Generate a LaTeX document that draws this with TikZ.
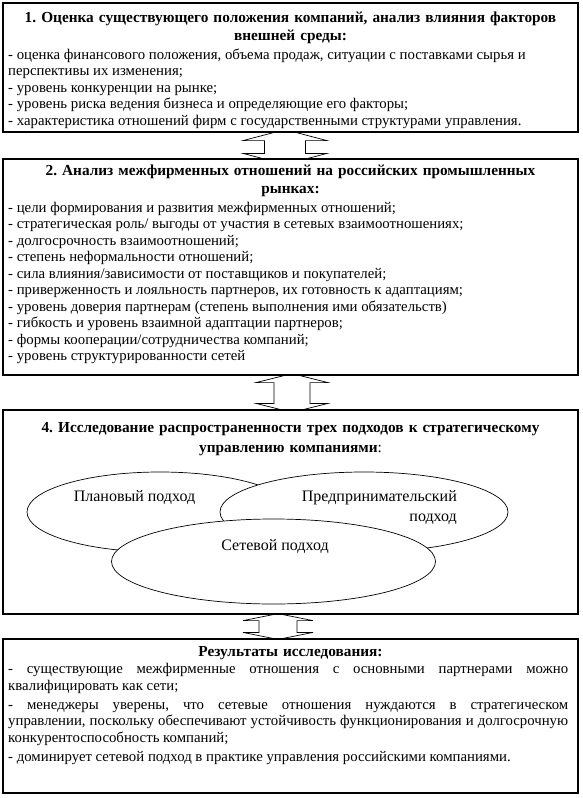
\documentclass[tikz,border=0pt]{standalone}
\usepackage{fontspec}
\setmainfont{Liberation Serif}
\usetikzlibrary{shapes.geometric,calc}
\pgfdeclarelayer{bg}
\pgfsetlayers{bg,main}
\frenchspacing
\newcommand\blockarr[5]{%
  \draw[arr] (#1) -- ($(#1)+(#3,-#5)$) -- ($(#1)+(#4,-#5)$) -- ($(#2)+(#4,#5)$) -- ($(#2)+(#3,#5)$) -- (#2)
   -- ($(#2)+(-#3,#5)$) -- ($(#2)+(-#4,#5)$) -- ($(#1)+(-#4,-#5)$) -- ($(#1)+(-#3,-#5)$) -- cycle;}
\begin{document}
\begin{tikzpicture}[x=1pt,y=1pt,
  box/.style={draw, line width=1.2pt, fill=white, minimum width=575, inner sep=0pt},
  ell/.style={draw, ellipse, line width=0.7pt, fill=white, inner sep=0pt},
  arr/.style={draw, line width=0.7pt, fill=white},
  body/.style={inner sep=0pt, align=left, font=\fontsize{14.8}{16.5}\selectfont\frenchspacing},
  ttl/.style={inner sep=0pt, align=center, text width=570, font=\fontsize{15.3}{18}\selectfont\bfseries\frenchspacing},
  lbl/.style={inner sep=0pt, font=\fontsize{16}{20}\selectfont}]
\useasboundingbox (0,0) rectangle (582,-798);
\begin{pgfonlayer}{bg}
\fill[white] (0,0) rectangle (582,-798);
\end{pgfonlayer}
% boxes
\node[box, minimum height=129] (b1) at (290.5,-67.5) {};
\node[box, minimum height=216] (b2) at (290.5,-267) {};
\node[box, minimum height=204] (b4) at (290.5,-512) {};
\node[box, minimum height=154] (b5) at (290.5,-716) {};
% box 1 text
\node[ttl, anchor=north] (t1) at (290.5,-9.8) {\strut 1. Оценка существующего положения компаний, анализ влияния факторов\\внешней среды:};
\node[body, anchor=north west] (x1) at (8,-47.25) {\strut - оценка финансового положения, объема продаж, ситуации с поставками сырья и\\
перспективы их изменения;\\
- уровень конкуренции на рынке;\\
- уровень риска ведения бизнеса и определяющие его факторы;\\
- характеристика отношений фирм с государственными структурами управления.};
% box 2 text
\node[ttl, anchor=north] (t2) at (290.5,-162.8) {\strut 2. Анализ межфирменных отношений на российских промышленных\\рынках:};
\node[body, anchor=north west] (x2) at (8,-200.25) {\strut - цели формирования и развития межфирменных отношений;\\
- стратегическая роль/ выгоды от участия в сетевых взаимоотношениях;\\
- долгосрочность взаимоотношений;\\
- степень неформальности отношений;\\
- сила влияния/зависимости от поставщиков и покупателей;\\
- приверженность и лояльность партнеров, их готовность к адаптациям;\\
- уровень доверия партнерам (степень выполнения ими обязательств)\\
- гибкость и уровень взаимной адаптации партнеров;\\
- формы кооперации/сотрудничества компаний;\\
- уровень структурированности сетей};
% box 4 text
\node[ttl, anchor=north, font=\fontsize{15.3}{20}\selectfont\bfseries\frenchspacing] (t4) at (290.5,-418.4) {\strut 4. Исследование распространенности трех подходов к стратегическому\\управлению компаниями\mdseries:};
% ellipses
\node[ell, minimum width=266, minimum height=80] (e1) at (160,-512) {};
\node[ell, minimum width=288, minimum height=80] (e2) at (364,-512) {};
\node[ell, minimum width=324, minimum height=85] (e3) at (273.5,-561.5) {};
\node[lbl, anchor=base] (l1) at (134.5,-501.6) {Плановый подход};
\node[lbl, anchor=north east, align=right] (l2) at (457,-487.6) {\strut Предпринимательский\\подход};
\node[lbl, anchor=base] (l3) at (275,-550.1) {Сетевой подход};
% box 5 text
\node[ttl, anchor=north, font=\fontsize{15.3}{16.5}\selectfont\bfseries] (t5) at (290.5,-644.85) {\strut Результаты исследования:};
\node[body, anchor=north west, text width=560, align=justify] (x5) at (8,-661.75) {\setlength{\parskip}{2.5pt}\strut - существующие межфирменные отношения с основными партнерами можно\linebreak
квалифицировать как сети;\par
- менеджеры уверены, что сетевые отношения нуждаются в стратегическом\linebreak
управлении, поскольку обеспечивают устойчивость функционирования и долгосрочную\linebreak
конкурентоспособность компаний;\par
- доминирует сетевой подход в практике управления российскими компаниями.};
% arrows
\coordinate (ax1) at (285,0);
\coordinate (ax2) at (292,0);
\coordinate (ax3) at (278,0);
\begin{pgfonlayer}{bg}
\coordinate (p1) at ($(b1.south -| ax1)+(0,3)$);
\coordinate (q1) at ($(b2.north -| ax1)+(0,-6)$);
\blockarr{p1}{q1}{42}{20.5}{11}
\coordinate (p2) at ($(b2.south -| ax2)+(0,2)$);
\coordinate (q2) at ($(b4.north -| ax2)+(0,-3)$);
\blockarr{p2}{q2}{36}{18}{9}
\coordinate (p3) at ($(b4.south -| ax3)+(0,1)$);
\coordinate (q3) at ($(b5.north -| ax3)+(0,-1)$);
\blockarr{p3}{q3}{35}{19}{7}
\end{pgfonlayer}
\end{tikzpicture}
\end{document}
